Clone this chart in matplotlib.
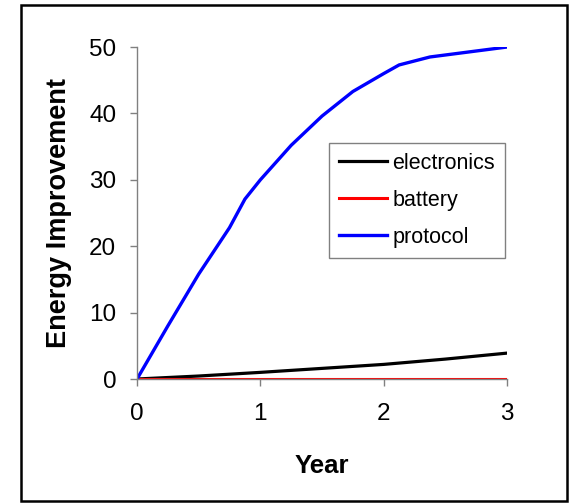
import matplotlib
matplotlib.use('agg')
import matplotlib.pyplot as plt
from matplotlib.patches import Rectangle

plt.rcParams['font.family'] = ['Liberation Sans', 'DejaVu Sans']

# values
years_protocol = [0, 0.25, 0.5, 0.75, 0.875, 1, 1.25, 1.5, 1.75, 2, 2.125, 2.375, 3]
protocol = [0, 8, 15.8, 22.8, 27.1, 30, 35.2, 39.6, 43.3, 46, 47.3, 48.5, 50]

years_electronics = [0, 0.5, 1, 1.5, 2, 2.5, 3]
electronics = [0, 0.45, 1.0, 1.6, 2.2, 3.0, 3.9]

years_battery = [0, 1, 2, 3]
battery = [0, 0, 0, 0]

x_ticks = [0, 1, 2, 3]
y_ticks = [0, 10, 20, 30, 40, 50]

fig = plt.figure(figsize=(5.7, 5.04), dpi=100)
ax = fig.add_axes([0.2404, 0.248, 0.6491, 0.6587])

ax.plot(years_electronics, electronics, color='black', lw=2.3, label='electronics')
ax.plot(years_battery, battery, color='#ff0000', lw=2.2, label='battery')
ax.plot(years_protocol, protocol, color='#0000ff', lw=2.4, label='protocol')

ax.set_xlim(0, 3)
ax.set_ylim(0, 50)
ax.set_xticks(x_ticks)
ax.set_yticks(y_ticks)

for s in ['top', 'right']:
    ax.spines[s].set_visible(False)
for s in ['left', 'bottom']:
    ax.spines[s].set_color('#808080')
    ax.spines[s].set_linewidth(1.0)

ax.tick_params(axis='both', colors='#808080', labelcolor='black', labelsize=17.5,
               length=5, width=1.0, direction='out')
ax.tick_params(axis='y', pad=10)
ax.tick_params(axis='x', pad=12)

ax.set_xlabel('Year', fontsize=18.5, fontweight='bold', labelpad=21)
ax.set_ylabel('Energy Improvement', fontsize=19.5, fontweight='bold', labelpad=12)

leg = ax.legend(loc='upper left', bbox_to_anchor=(329 / 570, 1 - 143 / 504),
                bbox_transform=fig.transFigure, fontsize=15.5, frameon=True,
                fancybox=False, shadow=False, framealpha=1, edgecolor='#808080',
                handlelength=2.25, handletextpad=0.25, labelspacing=0.75,
                borderpad=0.45, borderaxespad=0)
leg.get_frame().set_linewidth(1.0)

# outer border around the whole chart
fig.patches.append(Rectangle((21 / 570, 1 - 501 / 504), 546 / 570, 496 / 504,
                             transform=fig.transFigure, fill=False,
                             edgecolor='black', lw=1.8))

fig.savefig('out.png', dpi=100)
plt.close(fig)
